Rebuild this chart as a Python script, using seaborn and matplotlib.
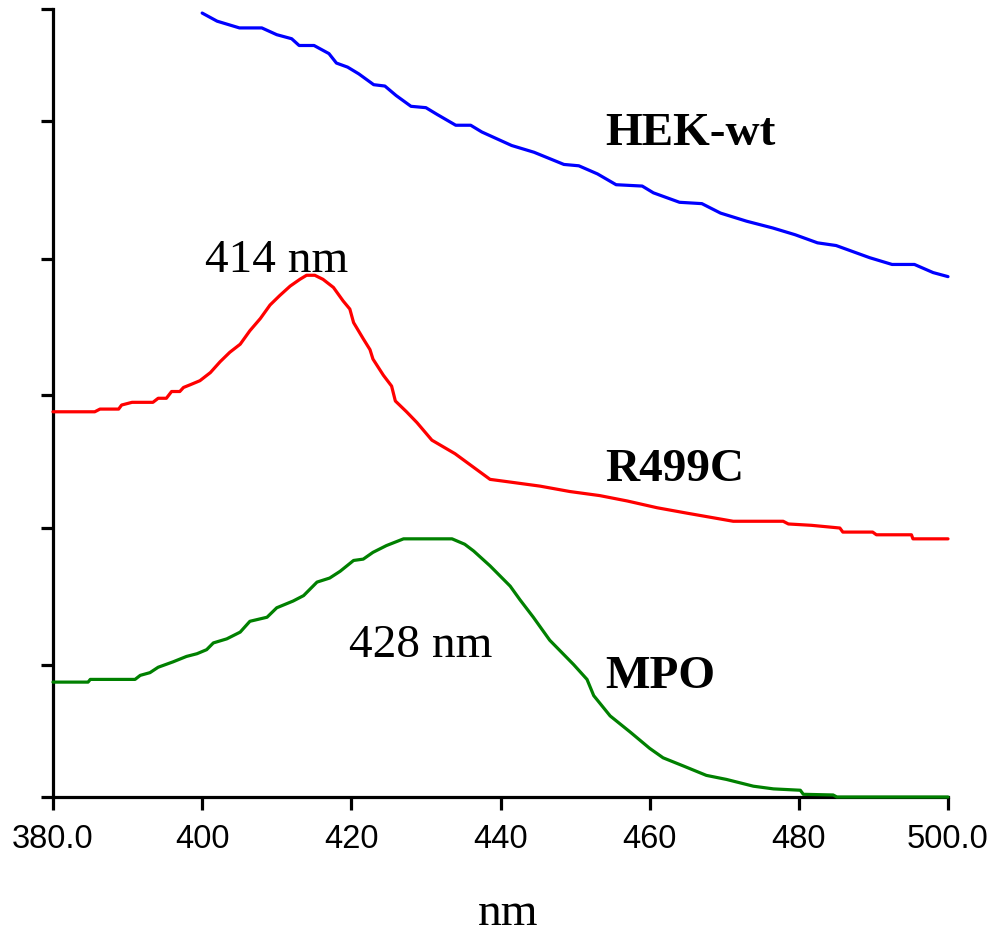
import numpy as np
import pandas as pd
import matplotlib
matplotlib.use("Agg")
import matplotlib.pyplot as plt
import seaborn as sns

# ---- data ----
hek_x = [400, 402, 405, 408, 410, 412, 413, 415, 417, 418, 419.5, 421, 423, 424.5, 426, 428, 430,
         431.5, 434, 436, 437.5, 441.5, 444.5, 448.5, 450.5, 453, 455.5, 459, 460.5, 464, 467,
         469.5, 473, 476.5, 479.5, 482.5, 485, 487, 489.5, 492.5, 495.5, 498, 500]
hek_y = [5.80, 5.74, 5.69, 5.69, 5.64, 5.61, 5.56, 5.56, 5.50, 5.43, 5.40, 5.35, 5.27, 5.26, 5.19,
         5.11, 5.10, 5.05, 4.97, 4.97, 4.92, 4.82, 4.77, 4.68, 4.67, 4.61, 4.53, 4.52, 4.47, 4.40,
         4.39, 4.32, 4.26, 4.21, 4.16, 4.10, 4.08, 4.04, 3.99, 3.94, 3.94, 3.88, 3.85]

r499_x = [380, 385.6, 386.3, 388.8, 389.2, 390.6, 393.4, 394.1, 395.2, 395.9, 397, 397.5, 398.4,
          399.7, 401.1, 402.4, 403.7, 405.1, 406.4, 407.8, 409.1, 410.4, 411.8, 413.1, 414.0,
          415.1, 416.2, 417.6, 418.9, 419.8, 420.3, 421.6, 422.5, 422.9, 424.3, 425.4, 425.9,
          427.4, 428.8, 430.8, 433.9, 438.6, 441.3, 445.3, 449.3, 453.3, 457, 461, 465, 471.2,
          477.9, 478.6, 481.7, 485.5, 485.9, 489.9, 490.4, 495.1, 495.3, 500]
r499_y = [2.85, 2.85, 2.87, 2.87, 2.90, 2.92, 2.92, 2.95, 2.95, 3.00, 3.00, 3.03, 3.05, 3.08, 3.14,
          3.22, 3.29, 3.35, 3.45, 3.54, 3.64, 3.71, 3.78, 3.83, 3.86, 3.86, 3.83, 3.77, 3.67, 3.61,
          3.51, 3.39, 3.31, 3.24, 3.12, 3.04, 2.93, 2.85, 2.77, 2.64, 2.54, 2.35, 2.33, 2.30, 2.26,
          2.23, 2.19, 2.14, 2.10, 2.04, 2.04, 2.02, 2.01, 1.99, 1.96, 1.96, 1.94, 1.94, 1.91, 1.91]

mpo_x = [380, 384.7, 385, 391.0, 391.7, 393, 394.1, 396.1, 397.9, 399.3, 400.6, 401.5, 403.3,
         405.1, 406.4, 408.7, 410, 412.2, 413.6, 415.4, 417.1, 418.5, 420.3, 421.6, 422.9, 424.7,
         427.0, 433.5, 435.2, 436.4, 438.6, 441.3, 442.6, 444.4, 446.6, 449.8, 451.6, 452.5,
         454.7, 457.4, 460.0, 461.8, 464.5, 467.6, 470.3, 473.9, 476.6, 480.2, 480.6, 484.6,
         485.1, 500]
mpo_y = [0.85, 0.85, 0.87, 0.87, 0.90, 0.92, 0.96, 1.00, 1.04, 1.06, 1.09, 1.14, 1.17, 1.22, 1.30,
         1.33, 1.40, 1.45, 1.49, 1.59, 1.62, 1.67, 1.75, 1.76, 1.81, 1.86, 1.91, 1.91, 1.87, 1.82,
         1.71, 1.56, 1.46, 1.33, 1.16, 0.98, 0.87, 0.75, 0.60, 0.48, 0.36, 0.29, 0.23, 0.16, 0.13,
         0.08, 0.06, 0.05, 0.02, 0.015, 0.0, 0.0]

x_ticks = [380, 400, 420, 440, 460, 480, 500]
x_tick_labels = ["380.0", "400", "420", "440", "460", "480", "500.0"]
y_ticks = [0, 0.98, 1.99, 2.975, 3.984, 4.998, 5.83]

series_names = ["HEK-wt", "R499C", "MPO"]
series_colors = ["#0000ff", "#ff0000", "#008000"]
label_pos = [(454.0, 4.83), (454.0, 2.345), (454.0, 0.814)]
peak_labels = ["414 nm", "428 nm"]
peak_pos = [(400.4, 3.89), (419.7, 1.043)]

# ---- figure ----
sns.set_style("ticks")
plt.rcParams["font.family"] = ["Liberation Sans Narrow", "Liberation Sans", "DejaVu Sans"]
plt.rcParams["text.color"] = "black"

fig = plt.figure(figsize=(9.95, 9.37), dpi=100)
ax = fig.add_axes([53 / 995, 1 - 798 / 937, (948 - 53) / 995, (798 - 10) / 937])

frames = [
    pd.DataFrame({"nm": hek_x, "A": hek_y}),
    pd.DataFrame({"nm": r499_x, "A": r499_y}),
    pd.DataFrame({"nm": mpo_x, "A": mpo_y}),
]
for df, c in zip(frames, series_colors):
    sns.lineplot(data=df, x="nm", y="A", ax=ax, color=c, linewidth=2.3,
                 zorder=5, clip_on=False)

ax.set_xlim(380, 500)
ax.set_ylim(0, 5.83)
ax.set_xticks(x_ticks)
ax.set_xticklabels(x_tick_labels)
ax.set_yticks(y_ticks)
ax.set_yticklabels([])
ax.set_xlabel("")
ax.set_ylabel("")
sns.despine(ax=ax, top=True, right=True)
for s in ["left", "bottom"]:
    ax.spines[s].set_linewidth(2.3)
    ax.spines[s].set_color("black")
ax.tick_params(axis="both", direction="out", length=9, width=2.3, colors="black",
               labelcolor="black")
ax.tick_params(axis="x", labelsize=23.5, pad=10)

for name, (tx, ty) in zip(series_names, label_pos):
    ax.text(tx, ty, name, fontsize=34, fontweight="bold", ha="left", va="baseline",
            color="black", family=["Liberation Serif", "DejaVu Serif"])
for name, (tx, ty) in zip(peak_labels, peak_pos):
    ax.text(tx, ty, name, fontsize=34, ha="left", va="baseline",
            color="black", family=["Liberation Serif", "DejaVu Serif"])

fig.text(508 / 995, 1 - 925 / 937, "nm", fontsize=34, ha="center", va="baseline",
         color="black", family=["Liberation Serif", "DejaVu Serif"])

fig.savefig("out.png", dpi=100, facecolor="white")
